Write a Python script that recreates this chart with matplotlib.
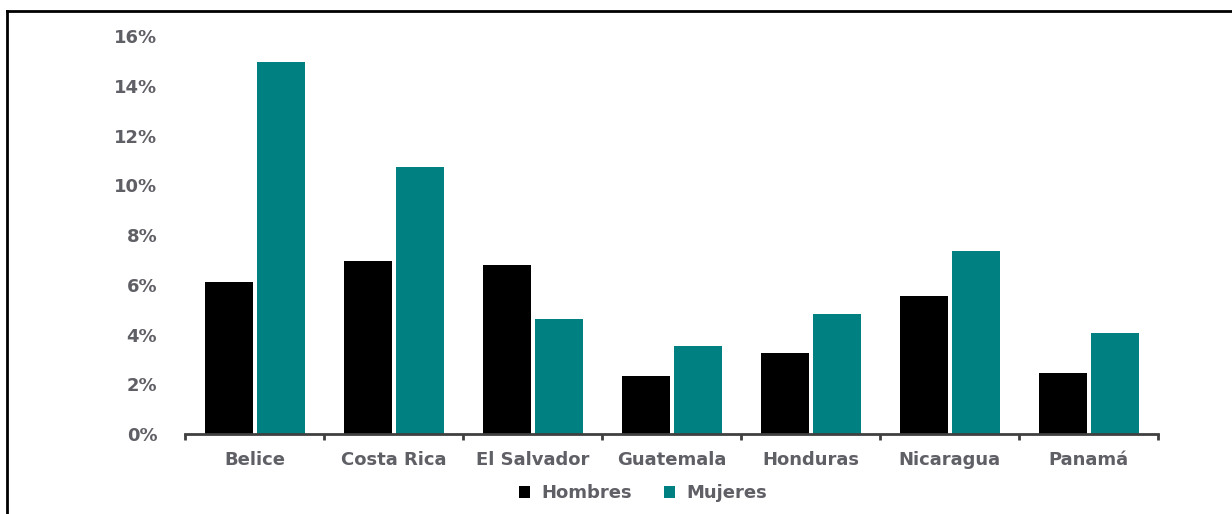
import matplotlib
matplotlib.use('Agg')
import matplotlib.pyplot as plt
from matplotlib.lines import Line2D
from matplotlib.ticker import FixedLocator, PercentFormatter
import numpy as np

plt.rcParams['font.family'] = ['DejaVu Sans']
plt.rcParams['font.weight'] = 'bold'

paises = ['Belice', 'Costa Rica', 'El Salvador', 'Guatemala', 'Honduras', 'Nicaragua', 'Panamá']
hombres = [6.11, 6.95, 6.79, 2.33, 3.26, 5.54, 2.44]
mujeres = [14.94, 10.75, 4.62, 3.54, 4.84, 7.34, 4.05]
y_ticks = [0, 2, 4, 6, 8, 10, 12, 14, 16]

color_h = '#000000'
color_m = '#008080'
color_txt = '#5f5f66'
fs = 13

fig = plt.figure(figsize=(12.32, 5.14), dpi=100)
ax = fig.add_axes([0.1502, 0.1556, 0.7898, 0.7743])

x = np.arange(len(paises))
w = 0.345
off = 0.187
ax.bar(x - off, hombres, w, color=color_h, label='Hombres')
ax.bar(x + off, mujeres, w, color=color_m, label='Mujeres')

ax.set_xlim(-0.5, len(paises) - 0.5)
ax.set_ylim(0, 16)

# ejes
for s in ['top', 'right', 'left']:
    ax.spines[s].set_visible(False)
ax.spines['bottom'].set_color('#404040')
ax.spines['bottom'].set_linewidth(2)

ax.set_xticks(x)
ax.set_xticklabels(paises)
ax.xaxis.set_minor_locator(FixedLocator(np.arange(-0.5, len(paises), 1.0)))
ax.tick_params(axis='x', which='major', length=0, pad=12, labelsize=fs, labelcolor=color_txt)
ax.tick_params(axis='x', which='minor', length=4, width=2, color='#404040')

ax.set_yticks(y_ticks)
ax.yaxis.set_major_formatter(PercentFormatter(decimals=0))
ax.tick_params(axis='y', length=0, pad=20, labelsize=fs, labelcolor=color_txt)

leg = ax.legend(loc='center', bbox_to_anchor=(0.522, 0.040), bbox_transform=fig.transFigure,
                ncol=2, frameon=False, fontsize=fs, handlelength=0.6, handleheight=0.6,
                handletextpad=0.6, columnspacing=1.8)
for t in leg.get_texts():
    t.set_color(color_txt)

# marco
fig.add_artist(Line2D([0.0057, 1.0], [0.9786, 0.9786], color='black', lw=2, transform=fig.transFigure))
fig.add_artist(Line2D([0.0057, 0.0057], [0.0, 0.9786], color='black', lw=2, transform=fig.transFigure))

fig.savefig('out.png', dpi=100, facecolor='white')
